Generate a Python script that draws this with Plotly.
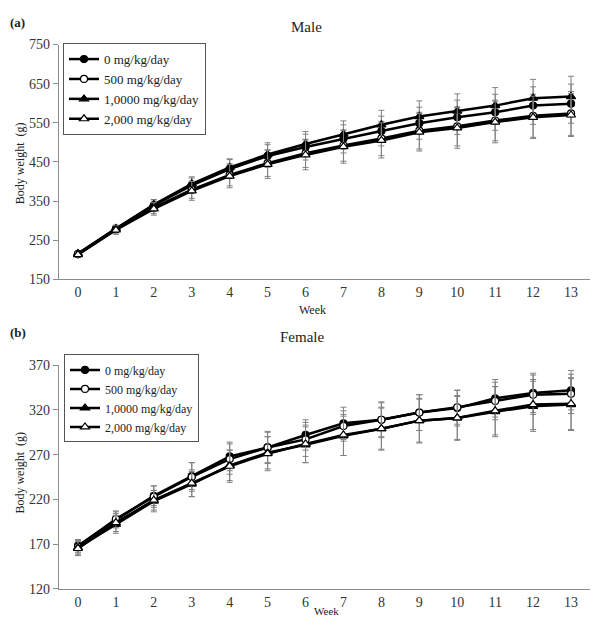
import plotly.graph_objects as go

W, H = 602, 626
weeks = list(range(14))
doses = ["0 mg/kg/day", "500 mg/kg/day", "1,0000 mg/kg/day", "2,000 mg/kg/day"]

# Male body weight (g)
male_0 = [215, 279, 339, 390, 432, 465, 488, 509, 529, 549, 564, 577, 594, 599]
male_500 = [214, 278, 333, 379, 417, 447, 472, 492, 510, 530, 541, 556, 568, 574]
male_1000 = [216, 280, 341, 394, 436, 469, 496, 521, 545, 566, 580, 594, 613, 617]
male_2000 = [213, 276, 330, 376, 414, 444, 468, 489, 505, 526, 537, 552, 564, 570]
male_sd_0 = [5, 9, 14, 19, 24, 29, 33, 36, 38, 41, 44, 46, 48, 50]
male_sd_500 = [5, 10, 15, 22, 28, 34, 36, 40, 44, 47, 50, 52, 55, 56]
male_sd_1000 = [5, 8, 13, 18, 22, 30, 32, 34, 37, 40, 44, 46, 48, 52]
male_sd_2000 = [6, 11, 16, 24, 30, 36, 38, 42, 45, 48, 52, 53, 54, 55]

# Female body weight (g)
female_0 = [168, 197, 224, 246, 268, 278, 292, 305, 309, 317, 322, 333, 339, 342]
female_500 = [167, 198, 223, 245, 265, 278, 287, 302, 309, 317, 323, 330, 337, 338]
female_1000 = [166, 192, 218, 237, 258, 272, 281, 291, 299, 308, 311, 318, 324, 326]
female_2000 = [165, 194, 219, 238, 257, 271, 282, 292, 299, 308, 311, 319, 326, 327]
female_sd_0 = [7, 9, 11, 15, 16, 17, 17, 18, 20, 20, 20, 21, 22, 22]
female_sd_500 = [7, 9, 12, 16, 17, 18, 19, 17, 19, 20, 19, 21, 22, 22]
female_sd_1000 = [8, 10, 12, 14, 17, 18, 20, 22, 23, 25, 24, 28, 28, 29]
female_sd_2000 = [8, 10, 11, 15, 18, 19, 21, 23, 24, 24, 25, 27, 28, 29]

styles = [
    dict(symbol="circle", color="black", line=dict(color="black", width=1.2), size=7),
    dict(symbol="circle", color="white", line=dict(color="black", width=1.2), size=7),
    dict(symbol="triangle-up", color="black", line=dict(color="black", width=1.2), size=8),
    dict(symbol="triangle-up", color="white", line=dict(color="black", width=1.2), size=8),
]

FONT = "Liberation Serif"
fig = go.Figure()

male = [(male_0, male_sd_0), (male_500, male_sd_500), (male_1000, male_sd_1000), (male_2000, male_sd_2000)]
female = [(female_0, female_sd_0), (female_500, female_sd_500), (female_1000, female_sd_1000), (female_2000, female_sd_2000)]

for i, (vals, sd) in enumerate(male):
    fig.add_trace(go.Scatter(
        x=weeks, y=vals, name=doses[i], mode="lines+markers",
        line=dict(color="black", width=2.5), marker=styles[i],
        error_y=dict(type="data", array=sd, visible=True, color="#808080", thickness=1, width=3),
        xaxis="x", yaxis="y", legend="legend"))
for i, (vals, sd) in enumerate(female):
    fig.add_trace(go.Scatter(
        x=weeks, y=vals, name=doses[i], mode="lines+markers",
        line=dict(color="black", width=2.5), marker=styles[i],
        error_y=dict(type="data", array=sd, visible=True, color="#808080", thickness=1, width=3),
        xaxis="x2", yaxis="y2", legend="legend2"))

def px_x(p):
    return p / W

def px_y(p):
    return 1 - p / H

axis_common = dict(showline=True, linecolor="#8c8c8c", linewidth=1.2, showgrid=False,
                   zeroline=False, tickfont=dict(family=FONT, size=14, color="#333"))

fig.update_layout(
    width=W, height=H, margin=dict(l=0, r=0, t=0, b=0),
    paper_bgcolor="white", plot_bgcolor="white",
    font=dict(family=FONT, color="#222"),
    xaxis=dict(domain=[px_x(59), px_x(590)], range=[-0.5, 13.5], tickvals=weeks,
               ticks="", anchor="y", **axis_common),
    yaxis=dict(domain=[px_y(279), px_y(38.5)], range=[150, 750], tick0=150, dtick=100,
               ticks="outside", ticklen=5, tickcolor="#8c8c8c", anchor="x", **axis_common),
    xaxis2=dict(domain=[px_x(59), px_x(590)], range=[-0.5, 13.5], tickvals=weeks,
                ticks="", anchor="y2", **axis_common),
    yaxis2=dict(domain=[px_y(596), px_y(367)], range=[120, 370], tick0=120, dtick=50,
                ticks="outside", ticklen=5, tickcolor="#8c8c8c", anchor="x2", **axis_common),
    legend=dict(x=px_x(63), y=px_y(37), xanchor="left", yanchor="top",
                bgcolor="white", bordercolor="#555", borderwidth=1,
                font=dict(family=FONT, size=13, color="#222"), tracegroupgap=0,
                itemwidth=30),
    legend2=dict(x=px_x(64), y=px_y(356), xanchor="left", yanchor="top",
                 bgcolor="white", bordercolor="#555", borderwidth=1,
                 font=dict(family=FONT, size=12, color="#222"), tracegroupgap=0,
                 itemwidth=30),
    showlegend=True,
)

ann = [
    dict(text="<b>(a)</b>", x=px_x(8), y=px_y(16), xanchor="left", size=13),
    dict(text="<b>(b)</b>", x=px_x(8), y=px_y(333), xanchor="left", size=13),
    dict(text="Male", x=px_x(306), y=px_y(20), xanchor="center", size=15),
    dict(text="Female", x=px_x(302), y=px_y(338), xanchor="center", size=15),
    dict(text="Week", x=px_x(312), y=px_y(310), xanchor="center", size=12),
    dict(text="Week", x=px_x(326), y=px_y(619), xanchor="center", size=11),
]
for a in ann:
    fig.add_annotation(text=a["text"], x=a["x"], y=a["y"], xref="paper", yref="paper",
                       xanchor=a["xanchor"], yanchor="middle", showarrow=False,
                       font=dict(family=FONT, size=a["size"], color="#222"))
for yc in (160, 477):
    fig.add_annotation(text="Body weight  (g)", x=px_x(20), y=px_y(yc), xref="paper", yref="paper",
                       xanchor="center", yanchor="middle", textangle=-90, showarrow=False,
                       font=dict(family=FONT, size=12, color="#222"))

fig.write_html("out.html")
